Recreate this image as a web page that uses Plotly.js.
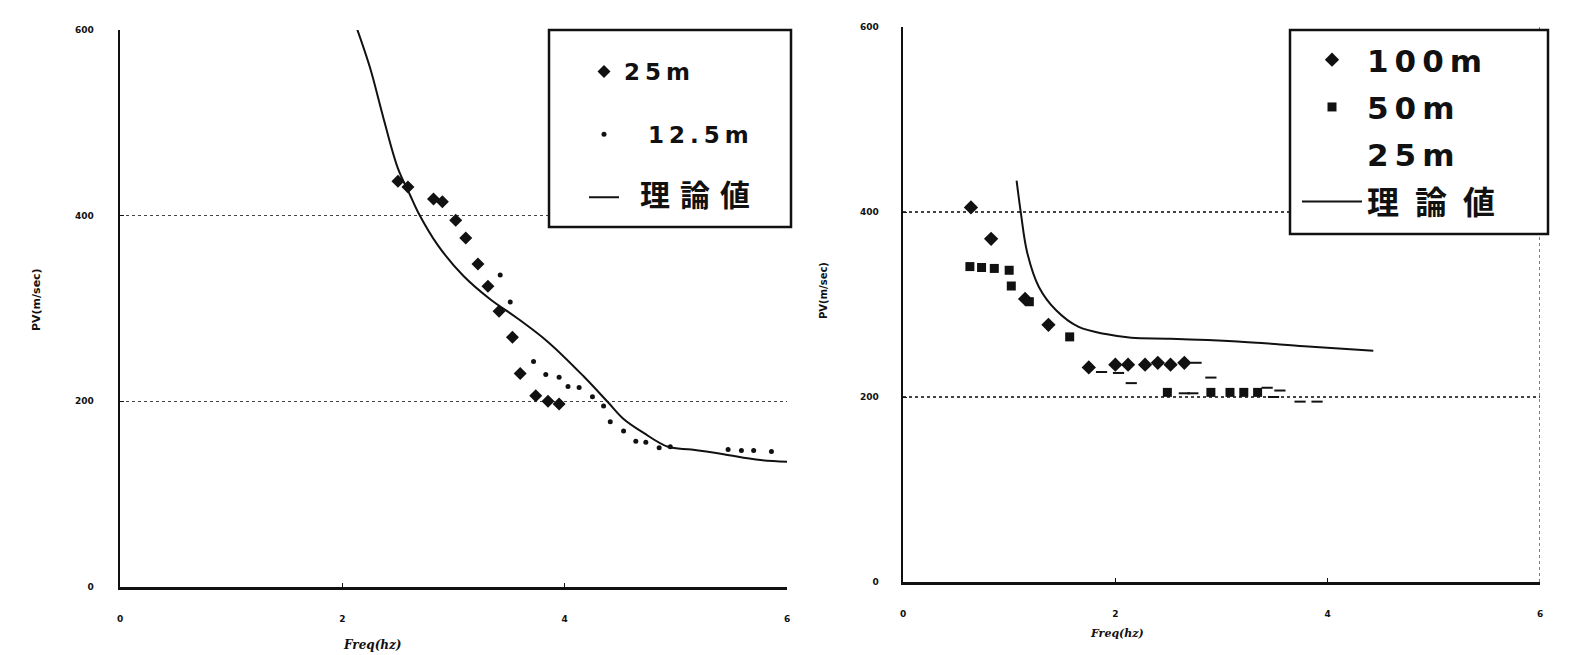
<!DOCTYPE html>
<html>
<head>
<meta charset="utf-8">
<script src="https://cdn.plot.ly/plotly-3.0.1.min.js"></script>
<style>html,body{margin:0;padding:0;background:#fff;}#chart{width:1577px;height:655px;}</style>
</head>
<body>
<div id="chart"></div>
<script>
// ---- Left chart data ----
const leftTheoryX = [2.13, 2.25, 2.37, 2.50, 2.61, 2.68, 2.86, 3.09, 3.33, 3.58, 3.85, 4.17, 4.39, 4.53, 4.71, 4.93, 5.14, 5.43, 5.74, 6.0];
const leftTheoryY = [602, 559, 505, 451, 422, 404, 368, 335, 310, 289, 264, 227, 199, 181, 166, 151, 148, 143, 137, 135];
const left25X = [2.50, 2.59, 2.82, 2.90, 3.02, 3.11, 3.22, 3.31, 3.41, 3.53, 3.60, 3.74, 3.85, 3.95];
const left25Y = [437, 431, 418, 415, 395, 376, 348, 324, 297, 269, 230, 206, 200, 197];
const left125X = [3.42, 3.51, 3.72, 3.83, 3.95, 4.03, 4.13, 4.25, 4.35, 4.41, 4.53, 4.64, 4.73, 4.85, 4.95, 5.47, 5.59, 5.70, 5.86];
const left125Y = [336, 307, 243, 229, 226, 216, 215, 205, 195, 178, 168, 157, 156, 150, 151, 148, 147, 147, 146];

// ---- Right chart data ----
const rightTheoryX = [1.07, 1.11, 1.17, 1.28, 1.44, 1.65, 1.91, 2.15, 2.52, 3.15, 3.78, 4.43];
const rightTheoryY = [434, 399, 356, 319, 294, 276, 268, 264, 263, 260, 255, 250];
const right100X = [0.64, 0.83, 1.15, 1.37, 1.75, 2.00, 2.12, 2.28, 2.40, 2.52, 2.65];
const right100Y = [405, 371, 306, 278, 232, 235, 235, 235, 237, 235, 237];
const right50X = [0.63, 0.74, 0.86, 1.00, 1.02, 1.19, 1.57, 2.49, 2.90, 3.08, 3.21, 3.34];
const right50Y = [341, 340, 339, 337, 320, 303, 265, 205, 205, 205, 205, 205];
const right25X = [1.87, 2.03, 2.15, 2.65, 2.73, 2.76, 2.90, 3.43, 3.49, 3.55, 3.74, 3.90];
const right25Y = [227, 226, 215, 204, 204, 237, 221, 210, 200, 207, 195, 195];

const xTicks = [0, 2, 4, 6];
const yTicks = [0, 200, 400, 600];
const legendNamesLeft = ['25m', '12.5m', '理論値'];
const legendNamesRight = ['100m', '50m', '25m', '理論値'];

const NB = '\u00a0';
const tickFont = {family: 'DejaVu Sans', size: 9, color: '#111', weight: 'bold'};
const legFontL = {family: '"DejaVu Sans", "Noto Sans CJK JP"', size: 23, color: '#111', weight: 'bold'};
const legFontR = {family: '"DejaVu Sans", "Noto Sans CJK JP"', size: 31, color: '#111', weight: 'bold'};
const wide = (s, sp) => '<span style="letter-spacing:' + sp + 'px">' + s + '</span>';
const cjk = (s, size, sp) => '<span style="font-family:\'Noto Sans CJK JP\';font-size:' + size + 'px;font-weight:bold;letter-spacing:' + sp + 'px">' + s + '</span>';

const traces = [
  {x: left25X, y: left25Y, mode: 'markers', name: wide(legendNamesLeft[0], 5), legendgroup: 'a', legend: 'legend',
   marker: {symbol: 'diamond', size: 10, color: '#111'}, xaxis: 'x', yaxis: 'y'},
  {x: left125X, y: left125Y, mode: 'markers', name: NB + NB + NB + wide(legendNamesLeft[1], 5), legendgroup: 'b', legend: 'legend',
   marker: {symbol: 'circle', size: 5, color: '#111'}, xaxis: 'x', yaxis: 'y'},
  {x: leftTheoryX, y: leftTheoryY, mode: 'lines', name: NB + NB + cjk(legendNamesLeft[2], 30, 10), legendgroup: 'c', legend: 'legend',
   line: {color: '#111', width: 2, shape: 'spline'}, xaxis: 'x', yaxis: 'y'},

  {x: right100X, y: right100Y, mode: 'markers', name: wide(legendNamesRight[0], 6), legendgroup: 'd', legend: 'legend2',
   marker: {symbol: 'diamond', size: 11, color: '#111'}, xaxis: 'x2', yaxis: 'y2'},
  {x: right50X, y: right50Y, mode: 'markers', name: wide(legendNamesRight[1], 6), legendgroup: 'e', legend: 'legend2',
   marker: {symbol: 'square', size: 9, color: '#111'}, xaxis: 'x2', yaxis: 'y2'},
  {x: [null], y: [null], mode: 'markers', name: wide(legendNamesRight[2], 6), legendgroup: 'f', legend: 'legend2',
   marker: {size: 1, color: 'rgba(0,0,0,0)'}, xaxis: 'x2', yaxis: 'y2'},
  {x: right25X, y: right25Y, mode: 'markers', name: legendNamesRight[2], showlegend: false, legend: 'legend2',
   marker: {symbol: 'line-ew', size: 8, line: {width: 2, color: '#111'}, color: '#111'}, xaxis: 'x2', yaxis: 'y2'},
  {x: rightTheoryX, y: rightTheoryY, mode: 'lines', name: cjk(legendNamesRight[3], 32, 16), legendgroup: 'g', legend: 'legend2',
   line: {color: '#111', width: 2, shape: 'spline'}, xaxis: 'x2', yaxis: 'y2'}
];

function xaxisDef(domain, anchor) {
  return {domain: domain, anchor: anchor, range: [0, 6], tickvals: xTicks, ticktext: xTicks.map(String),
    showgrid: false, zeroline: false, showline: true, linecolor: '#111', linewidth: 2.5,
    ticks: 'inside', ticklen: 4, tickcolor: '#111', tickfont: tickFont, ticklabelstandoff: 22, fixedrange: true};
}
function yaxisDef(domain, anchor, standoff) {
  return {domain: domain, anchor: anchor, range: [0, 600], tickvals: yTicks, ticktext: yTicks.map(String),
    showgrid: true, griddash: 'dot', gridcolor: '#444', gridwidth: 1.5,
    zeroline: false, showline: true, linecolor: '#111', linewidth: 2.5,
    ticks: 'inside', ticklen: 4, tickcolor: '#111', tickfont: tickFont, ticklabelstandoff: standoff, fixedrange: true};
}
const px = v => v / 1577;
const py = v => 1 - v / 655;

const layout = {
  width: 1577, height: 655,
  margin: {l: 0, r: 0, t: 0, b: 0},
  paper_bgcolor: '#fff', plot_bgcolor: '#fff',
  showlegend: true,
  xaxis: xaxisDef([px(120), px(787)], 'y'),
  yaxis: yaxisDef([py(587), py(30)], 'x', 22),
  xaxis2: xaxisDef([px(903), px(1540)], 'y2'),
  yaxis2: yaxisDef([py(582), py(27)], 'x2', 20),
  legend: {x: px(584), y: py(50), xanchor: 'left', yanchor: 'top', xref: 'paper', yref: 'paper',
    bgcolor: 'rgba(0,0,0,0)', borderwidth: 0, font: legFontL, tracegroupgap: 30, itemwidth: 30},
  legend2: {x: px(1297), y: py(33), xanchor: 'left', yanchor: 'top', xref: 'paper', yref: 'paper',
    bgcolor: 'rgba(0,0,0,0)', borderwidth: 0, font: legFontR, tracegroupgap: 4, itemwidth: 60},
  shapes: [
    {type: 'line', xref: 'x2', yref: 'y2', x0: 6, x1: 6, y0: 0, y1: 600, line: {color: '#555', width: 1.5, dash: 'dot'}},
    {type: 'rect', xref: 'paper', yref: 'paper', x0: px(549), x1: px(791), y0: py(227), y1: py(30), layer: 'above',
     fillcolor: '#fff', line: {color: '#111', width: 2.5}},
    {type: 'rect', xref: 'paper', yref: 'paper', x0: px(1290), x1: px(1548), y0: py(234), y1: py(30), layer: 'above',
     fillcolor: '#fff', line: {color: '#111', width: 2.5}}
  ],
  annotations: [
    {text: 'PV(m/sec)', xref: 'paper', yref: 'paper', x: px(36), y: py(300), xanchor: 'center', yanchor: 'middle',
     showarrow: false, textangle: -90, font: {family: 'DejaVu Sans', size: 11, color: '#111', weight: 'bold'}},
    {text: 'PV(m/sec)', xref: 'paper', yref: 'paper', x: px(823), y: py(290), xanchor: 'center', yanchor: 'middle',
     showarrow: false, textangle: -90, font: {family: 'DejaVu Sans', size: 10, color: '#111', weight: 'bold'}},
    {text: 'Freq(hz)', xref: 'paper', yref: 'paper', x: px(372), y: py(645), xanchor: 'center', yanchor: 'middle',
     showarrow: false, font: {family: 'DejaVu Serif', size: 12, color: '#111', weight: 'bold', style: 'italic'}},
    {text: 'Freq(hz)', xref: 'paper', yref: 'paper', x: px(1117), y: py(633), xanchor: 'center', yanchor: 'middle',
     showarrow: false, font: {family: 'DejaVu Serif', size: 11, color: '#111', weight: 'bold', style: 'italic'}}
  ]
};

Plotly.newPlot('chart', traces, layout, {staticPlot: true, displayModeBar: false});
</script>
</body>
</html>
